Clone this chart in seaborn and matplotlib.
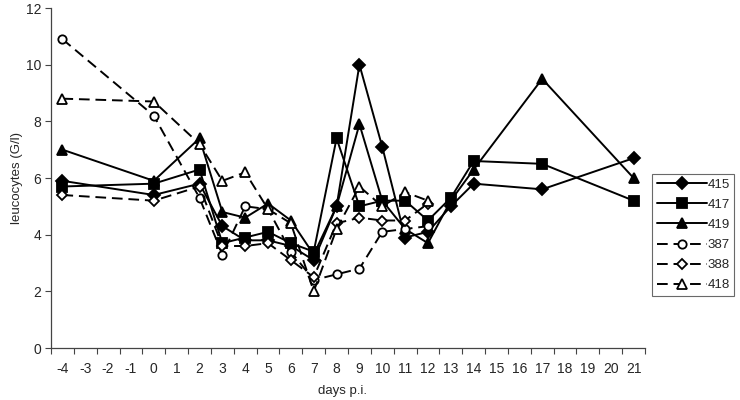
import matplotlib
matplotlib.use("Agg")
import matplotlib.pyplot as plt
import seaborn as sns
import numpy as np
import pandas as pd

days_long = [-4, 0, 2, 3, 4, 5, 6, 7, 8, 9, 10, 11, 12, 13, 14, 17, 21]
days_short = [-4, 0, 2, 3, 4, 5, 6, 7, 8, 9, 10, 11, 12]

s415 = [5.9, 5.4, 5.8, 4.3, 3.8, 3.8, 3.6, 3.1, 5.0, 10.0, 7.1, 3.9, 4.1, 5.0, 5.8, 5.6, 6.7]
s417 = [5.7, 5.8, 6.3, 3.7, 3.9, 4.1, 3.7, 3.4, 7.4, 5.0, 5.2, 5.2, 4.5, 5.3, 6.6, 6.5, 5.2]
s419 = [7.0, 5.9, 7.4, 4.8, 4.6, 5.1, 4.5, 3.3, 5.0, 7.9, 5.2, 4.2, 3.7, 5.2, 6.3, 9.5, 6.0]
s387 = [10.9, 8.2, 5.3, 3.3, 5.0, 4.9, 3.4, 2.4, 2.6, 2.8, 4.1, 4.2, 4.3]
s388 = [5.4, 5.2, 5.7, 3.6, 3.6, 3.7, 3.1, 2.5, 4.4, 4.6, 4.5, 4.5, 5.1]
s418 = [8.8, 8.7, 7.2, 5.9, 6.2, 4.9, 4.4, 2.0, 4.2, 5.7, 5.0, 5.5, 5.2]

series_names = ["415", "417", "419", "387", "388", "418"]
tick_days = list(range(-4, 22))

sns.set_style("white")
plt.rcParams["font.family"] = ["Liberation Sans", "DejaVu Sans"]

fig = plt.figure(figsize=(7.4, 4.0), dpi=100)
ax = fig.add_axes([51 / 740, 52 / 400, (645 - 51) / 740, (348 - 8) / 400])

specs = [
    ("415", days_long, s415, "D", "k", "-", 6.0),
    ("417", days_long, s417, "s", "k", "-", 6.5),
    ("419", days_long, s419, "^", "k", "-", 7.0),
    ("387", days_short, s387, "o", "white", "--", 6.0),
    ("388", days_short, s388, "D", "white", "--", 5.0),
    ("418", days_short, s418, "^", "white", "--", 6.5),
]

for name, d, v, mk, fc, ls, ms in specs:
    df = pd.DataFrame({"day": d, "val": v})
    sns.lineplot(data=df, x="day", y="val", ax=ax, color="k", marker=mk,
                 markerfacecolor=fc, markeredgecolor="k", markeredgewidth=1.3,
                 markersize=ms, linewidth=1.4, label=name, sort=False)
    ln = ax.get_lines()[-1]
    if ls == "--":
        ln.set_linestyle((0, (5.5, 3.0)))

ax.set_xlim(-4.5, 21.5)
ax.set_ylim(0, 12)
ax.set_yticks(np.arange(0, 13, 2))
ax.set_xticks(tick_days)
ax.set_xticklabels([str(t) for t in tick_days])
ax.set_xticks(np.arange(-4.5, 22, 1.0), minor=True)
ax.tick_params(axis="x", which="major", length=0, pad=10, labelsize=10)
ax.tick_params(axis="x", which="minor", length=4, width=0.8, color="#444444", direction="out", bottom=True)
ax.tick_params(axis="y", which="major", length=4, width=0.8, color="#444444", direction="out", left=True, labelsize=10, pad=3)

for side in ["top", "right"]:
    ax.spines[side].set_visible(False)
for side in ["left", "bottom"]:
    ax.spines[side].set_color("#444444")
    ax.spines[side].set_linewidth(0.9)

ax.set_xlabel("days p.i.", fontsize=9.5)
ax.set_ylabel("leucocytes (G/l)", fontsize=9.5)
ax.xaxis.set_label_coords(0.49, -0.108)
ax.yaxis.set_label_coords(-0.047, 0.5)

leg = ax.legend(loc="center left", bbox_to_anchor=(652 / 740, (400 - 235) / 400),
                bbox_transform=fig.transFigure, frameon=True, fancybox=False,
                edgecolor="#444444", fontsize=9.5, handlelength=3.8, handletextpad=0.05,
                borderpad=0.35, labelspacing=0.6, borderaxespad=0)
leg.get_frame().set_linewidth(0.8)

fig.savefig("out.png", dpi=100, facecolor="white")
